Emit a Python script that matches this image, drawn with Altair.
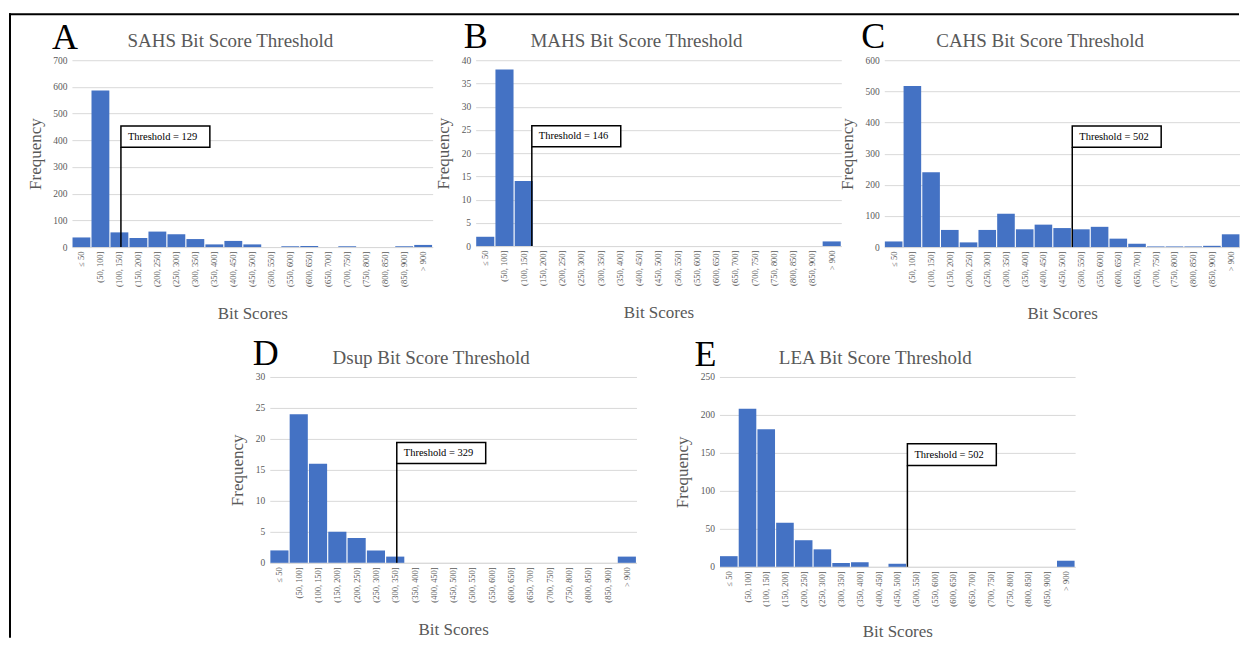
import altair as alt
import pandas as pd

# ---------------- data ----------------
categories = ["≤ 50", "(50, 100]", "(100, 150]", "(150, 200]", "(200, 250]",
              "(250, 300]", "(300, 350]", "(350, 400]", "(400, 450]", "(450, 500]",
              "(500, 550]", "(550, 600]", "(600, 650]", "(650, 700]", "(700, 750]",
              "(750, 800]", "(800, 850]", "(850, 900]", "> 900"]

sahs = [36, 587, 55, 34, 58, 48, 30, 10, 23, 10, 0, 3, 4, 0, 3, 0, 0, 3, 8]
mahs = [2, 38, 14, 0, 0, 0, 0, 0, 0, 0, 0, 0, 0, 0, 0, 0, 0, 0, 1]
cahs = [18, 517, 240, 55, 15, 55, 107, 57, 72, 61, 57, 65, 27, 11, 2, 2, 2, 4, 41]
dsup = [2, 24, 16, 5, 4, 2, 1, 0, 0, 0, 0, 0, 0, 0, 0, 0, 0, 0, 1]
lea = [14, 208, 181, 58, 35, 23, 5, 6, 0, 4, 0, 0, 0, 0, 0, 0, 0, 0, 8]

letters = ["A", "B", "C", "D", "E"]
titles = ["SAHS Bit Score Threshold", "MAHS Bit Score Threshold",
          "CAHS Bit Score Threshold", "Dsup Bit Score Threshold",
          "LEA Bit Score Threshold"]
thresholds = [129, 146, 502, 329, 502]
y_max = [700, 40, 600, 30, 250]
y_step = [100, 5, 100, 5, 50]
bin_size = 50

# ---------------- style ----------------
FONT = "Liberation Serif"
BLUE = "#4472C4"
GRAY = "#595959"
GRID = "#D9D9D9"

# panel geometry: width, height, letter x, letter y, y-title x, x-title y
geom = [
    dict(W=361, H=187, lx=-20, ly=-11, tx=-36, ty=66),
    dict(W=366, H=186, lx=-12, ly=-12, tx=-32, ty=66),
    dict(W=356, H=187, lx=-23, ly=-12, tx=-37, ty=66),
    dict(W=367, H=186, lx=-17, ly=-12, tx=-32, ty=67),
    dict(W=356, H=190, lx=-25, ly=-11, tx=-37, ty=65),
]
BOX_W = 89
BOX_TOP = 0.648
BOX_BOT = 0.534


def panel(i, counts, border=None):
    g = geom[i]
    W, H = g["W"], g["H"]
    n = len(categories)
    df = pd.DataFrame({"cat": categories, "count": counts})
    ymax = y_max[i]

    bars = alt.Chart(df).mark_bar(color=BLUE).encode(
        x=alt.X("cat:N", sort=categories,
                scale=alt.Scale(paddingInner=0.06, paddingOuter=0.03),
                axis=alt.Axis(title="Bit Scores", labelAngle=270, ticks=False,
                              domainColor=GRID, labelColor=GRAY, labelFont=FONT,
                              labelFontSize=8.5, labelPadding=4, labelOverlap=False,
                              titleFont=FONT, titleFontSize=17, titleColor=GRAY,
                              titleFontWeight="normal", titleY=g["ty"],
                              titleBaseline="middle")),
        y=alt.Y("count:Q", scale=alt.Scale(domain=[0, ymax], nice=False),
                axis=alt.Axis(title="Frequency", values=list(range(0, ymax + 1, y_step[i])),
                              grid=True, gridColor=GRID, domain=False, ticks=False,
                              labelColor=GRAY, labelFont=FONT, labelFontSize=9.5,
                              labelPadding=5, titleFont=FONT, titleFontSize=17,
                              titleColor=GRAY, titleFontWeight="normal",
                              titleX=g["tx"], titleY=H / 2, titleBaseline="middle")),
    )

    thr = thresholds[i]
    ann = pd.DataFrame({"thr": [thr], "label": [f"Threshold = {thr}"]})
    xs = alt.Scale(domain=[0, n], nice=False, zero=False)
    box_bins = BOX_W / (W / n)
    base = alt.Chart(ann).transform_calculate(
        pos=f"datum.thr / {bin_size}",
        pos2=f"datum.thr / {bin_size} + {box_bins}",
    )
    rule = base.mark_rule(color="black", strokeWidth=1.5).encode(
        x=alt.X("pos:Q", scale=xs, axis=None),
        y=alt.value(H * (1 - BOX_BOT)), y2=alt.value(H))
    box = base.mark_rect(fill="white", stroke="black", strokeWidth=1.5).encode(
        x=alt.X("pos:Q", scale=xs, axis=None), x2="pos2:Q",
        y=alt.value(H * (1 - BOX_TOP)), y2=alt.value(H * (1 - BOX_BOT)))
    txt = base.mark_text(align="left", baseline="middle", dx=7, font=FONT,
                         fontSize=10.5, color="black").encode(
        x=alt.X("pos:Q", scale=xs, axis=None),
        y=alt.value(H * (1 - (BOX_TOP + BOX_BOT) / 2)), text="label:N")

    lab = pd.DataFrame({"letter": [letters[i]], "title": [titles[i]]})
    letter = alt.Chart(lab).mark_text(align="left", baseline="alphabetic", font=FONT,
                                      fontSize=36, color="black").encode(
        x=alt.value(g["lx"]), y=alt.value(g["ly"]), text="letter:N")
    title = alt.Chart(lab).mark_text(align="center", baseline="alphabetic", font=FONT,
                                     fontSize=19, color=GRAY).encode(
        x=alt.value(W / 2 - 22), y=alt.value(-13), text="title:N")

    layers = [bars, rule, box, txt, letter, title]
    if border is not None:
        layers += border
    return alt.layer(*layers).resolve_scale(x="independent").properties(width=W, height=H)


dummy = pd.DataFrame({"d": [0]})
# frame: top line + upper left line drawn in panel A, lower left line in a spacer
border_top = [
    alt.Chart(dummy).mark_rule(color="black", strokeWidth=2).encode(
        x=alt.value(-63), x2=alt.value(1168), y=alt.value(-46)),
    alt.Chart(dummy).mark_rule(color="black", strokeWidth=2).encode(
        x=alt.value(-62), y=alt.value(-47), y2=alt.value(268)),
]
spacer = alt.Chart(dummy).mark_rule(color="black", strokeWidth=2).encode(
    x=alt.value(-62), y=alt.value(-50.7), y2=alt.value(261)
).properties(width=115, height=186)

pA = panel(0, sahs, border_top)
pB = panel(1, mahs)
pC = panel(2, cahs)
pD = panel(3, dsup)
pE = panel(4, lea)

top = alt.hconcat(pA, pB, pC, spacing=43, bounds="flush")
bottom = alt.hconcat(spacer, pD, pE, spacing=83, bounds="flush")

chart = alt.vconcat(top, bottom, spacing=-4).properties(
    padding={"left": 0, "top": 4, "right": 0, "bottom": 0}
).configure_view(stroke="transparent", strokeWidth=0)

chart.save("out.html", embed_options={"renderer": "svg", "actions": False})
